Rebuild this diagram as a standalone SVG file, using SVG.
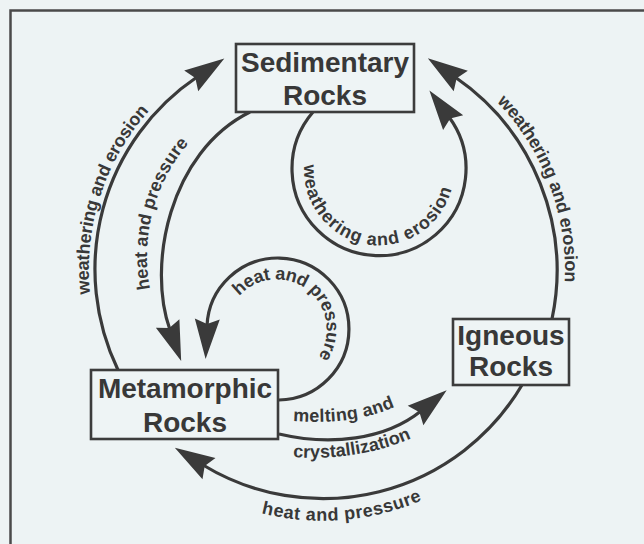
<svg xmlns="http://www.w3.org/2000/svg" width="644" height="544" viewBox="0 0 644 544">
<style>
.bg{fill:#edf3f4}
.frame{fill:none;stroke:#4a4a4a;stroke-width:2.5}
.box{fill:#eef4f5;stroke:#3c3c3c;stroke-width:2.6}
.nt{font-family:"Liberation Sans",Arial,sans-serif;font-weight:bold;font-size:28px;fill:#383838;text-anchor:middle}
.conn{fill:none;stroke:#3a3a3a;stroke-width:3.2;marker-end:url(#ah)}
.lbl{font-family:"Liberation Sans",Arial,sans-serif;font-weight:bold;font-size:18px;fill:#383838}
</style>
<defs>
<marker id="ah" markerUnits="userSpaceOnUse" markerWidth="50" markerHeight="30" viewBox="-10 -15 50 30" refX="0" refY="0" orient="auto" overflow="visible">
<path d="M33,0 L-7,-12.5 L-2,0 L-7,12.5 Z" fill="#3a3a3a"/>
</marker>
<path id="t1" d="M90.2,294 A238,238 0 0 1 150,109.8"/>
<path id="t2" d="M150.2,289 A173,173 0 0 1 189.4,142.5"/>
<path id="t3" d="M496.8,101.9 A243,243 0 0 1 564.7,283.4"/>
<path id="t4" d="M304.2,164.8 A75,75 0 0 0 452.9,183.1"/>
<path id="t5" d="M239.3,296.2 A50,50 0 0 1 318.9,356.2"/>
<path id="t6" d="M293,421 C320,423 360,423 397,406"/>
<path id="t7" d="M293,457 C330,460 375,455 414,437"/>
<path id="t8" d="M261.4,513.3 A252,252 0 0 0 424.9,499"/>
</defs>
<rect class="bg" x="0" y="0" width="644" height="544"/>
<path class="frame" d="M10.5,548 V10.5 H648"/>
<g id="connectors">
<path id="c-met-sed" class="conn" d="M118,370 A232,232 0 0 1 197,77"/>
<path id="c-ign-sed" class="conn" d="M552,319 A235,235 0 0 0 455,77"/>
<path id="c-ign-met" class="conn" d="M522,385 A231,231 0 0 1 203,465"/>
<path id="c-sed-met" class="conn" d="M250,112 C169,152 147,266 170,330"/>
<path id="c-sed-sed" class="conn" d="M313,112 A87,87 0 1 0 449,117"/>
<path id="c-met-met" class="conn" d="M279,400 A71,71 0 1 0 207,326"/>
<path id="c-met-ign" class="conn" d="M279,434 C330,446 385,440 421,411"/>
</g>
<g id="labels">
<text class="lbl"><textPath href="#t1" textLength="198" lengthAdjust="spacing">weathering and erosion</textPath></text>
<text class="lbl"><textPath href="#t2" textLength="156" lengthAdjust="spacing">heat and pressure</textPath></text>
<text class="lbl"><textPath href="#t3" textLength="198" lengthAdjust="spacing">weathering and erosion</textPath></text>
<text class="lbl"><textPath href="#t4" textLength="222" lengthAdjust="spacing">weathering and erosion</textPath></text>
<text class="lbl"><textPath href="#t5" textLength="150" lengthAdjust="spacing">heat and pressure</textPath></text>
<text class="lbl"><textPath href="#t6" textLength="104" lengthAdjust="spacing">melting and</textPath></text>
<text class="lbl"><textPath href="#t7" textLength="121" lengthAdjust="spacing">crystallization</textPath></text>
<text class="lbl"><textPath href="#t8" textLength="164" lengthAdjust="spacing">heat and pressure</textPath></text>
</g>
<g id="node-sedimentary">
<rect class="box" x="236" y="44" width="178" height="68"/>
<text class="nt" x="325" y="72">Sedimentary</text>
<text class="nt" x="325" y="105">Rocks</text>
</g>
<g id="node-metamorphic">
<rect class="box" x="91" y="370" width="187" height="69"/>
<text class="nt" x="185" y="398">Metamorphic</text>
<text class="nt" x="185" y="432">Rocks</text>
</g>
<g id="node-igneous">
<rect class="box" x="453" y="319" width="116" height="66"/>
<text class="nt" x="511" y="345">Igneous</text>
<text class="nt" x="511" y="376">Rocks</text>
</g>
</svg>
